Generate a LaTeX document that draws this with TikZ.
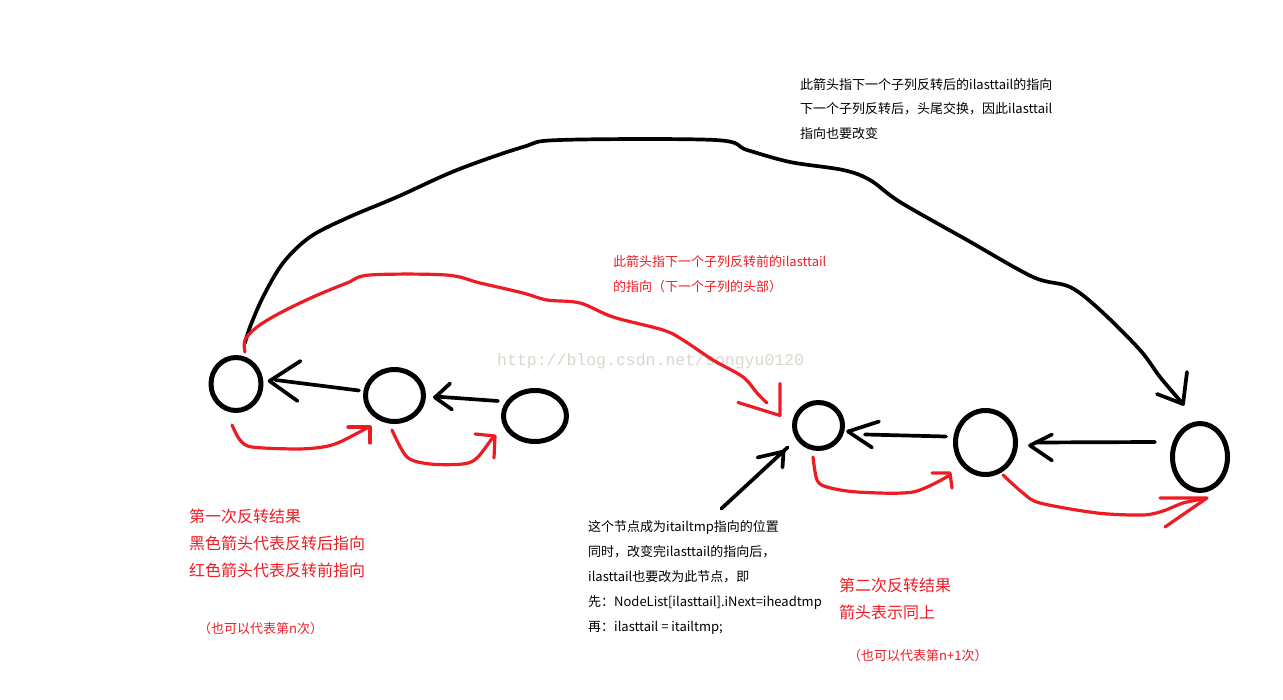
\documentclass[tikz,border=0pt]{standalone}
\usepackage{fontspec}
\newfontfamily\cjk{Noto Sans CJK SC}
\newfontfamily\wmfont{Liberation Mono}
\usetikzlibrary{shapes.geometric,calc}
\definecolor{pr}{RGB}{237,28,36}
\definecolor{wmgray}{RGB}{218,214,206}
\begin{document}
\begin{tikzpicture}[x=1pt,y=-1pt,
 blk/.style={draw=black,line width=3.7pt,line cap=round,line join=round},
 redl/.style={draw=pr,line width=3.2pt,line cap=round,line join=round},
 circ/.style={ellipse,draw=black,line width=5pt,inner sep=0pt},
 bt/.style={font=\cjk\fontsize{13}{16}\selectfont,anchor=base west,inner sep=0pt,text=black},
 rt/.style={bt,text=pr},
 rbig/.style={font=\cjk\fontsize{16}{19}\selectfont,anchor=base west,inner sep=0pt,text=pr},
 wmark/.style={font=\wmfont\fontsize{16.5}{19}\selectfont,anchor=base west,inner sep=0pt,text=wmgray},
]
\path[use as bounding box] (0,0) rectangle (1283,700);

% watermark
\node[wmark] (wm0) at (497,366) {http://blog.csdn.net/songyu0120};

% list nodes
\node[circ,minimum width=50pt,minimum height=53pt] (c1) at (236,384) {};
\node[circ,minimum width=58pt,minimum height=52pt] (c2) at (394.5,395.5) {};
\node[circ,minimum width=63pt,minimum height=51pt] (c3) at (535,416) {};
\node[circ,minimum width=48pt,minimum height=46pt] (c4) at (818.5,425.5) {};
\node[circ,minimum width=60pt,minimum height=64pt] (c5) at (985.5,442.5) {};
\node[circ,minimum width=55pt,minimum height=67pt] (c6) at (1200,457) {};

% arrow tip coordinates
\coordinate (h21) at ($(c1.east)+(6,-3)$);
\coordinate (h32) at ($(c2.east)+(9,2)$);
\coordinate (h54) at ($(c4.east)+(3,6)$);
\coordinate (h65) at ($(c5.east)+(12,3)$);
\coordinate (hp)  at ($(c4.center)+(-35,26)$);
\coordinate (hbig) at ($(c6.north)+(-17,-17)$);
\coordinate (hred) at ($(c4.west)+(-12,-10)$);

% black arrows (after reversal)
\draw[blk] ($(c2.west)+(-4,-5)$) -- ($(c1.east)+(12,-4)$);
\draw[blk] (h21) ++(31,-20) -- (h21) -- ++(28,20);
\draw[blk] ($(c3.west)+(-3,-15)$) -- ($(c2.east)+(9,1)$);
\draw[blk] (h32) ++(15,-14) -- (h32) -- ++(17,12);
\draw[blk] ($(c5.west)+(-7,-6)$) -- ($(c4.east)+(20,9)$);
\draw[blk] (h54) ++(31,-10) -- (h54) -- ++(24,16);
\draw[blk] ($(c6.west)+(-15,-15)$) -- ($(c5.east)+(17,0)$);
\draw[blk] (h65) ++(22,-11) -- (h65) -- ++(22,15);
\draw[blk] ($(hp)+(-62,57)$) -- ($(hp)+(4,-4)$);
\draw[blk] (hp) ++(-26,6) -- (hp) -- ++(-1,16);

% long black arrow
\draw[blk] plot[smooth,tension=0.55] coordinates {(245,343) (250,327) (263,297) (283,263) (310,237) (347,218) (397,197) (457,170) (523,147) (560,140) (715,140) (747,150) (790,162) (843,170) (870,180) (900,202) (967,240) (1033,277) (1070,287) (1100,310) (1140,350) (1160,377) (hbig)};
\draw[blk] (hbig) ++(4,-32) -- (hbig) -- ++(-26,-10);

% long red arrow
\draw[redl] plot[smooth,tension=0.55] coordinates {(245,352) (245,340) (257,327) (280,313) (313,297) (347,283) (370,275) (446,275) (480,283) (523,293) (547,300) (580,303) (613,317) (663,330) (683,340) (713,360) (743,377) (757,393) (767,403)};
\draw[redl] (hred) ++(-42,-13) -- (hred) -- ++(0,-32);

% red arrows (before reversal)
\draw[redl] plot[smooth,tension=0.5] coordinates {(232,425) (240,440) (252,447) (297,449) (323,447) (340,442) (367,428)};
\draw[redl] (348,427) -- (370,427) -- (370,443);
\draw[redl] plot[smooth,tension=0.5] coordinates {(392,430) (407,457) (430,464) (463,464) (477,458) (493,437)};
\draw[redl] (475,434) -- (495,436) -- (494,458);
\draw[redl] plot[smooth,tension=0.5] coordinates {(813,457) (817,480) (827,487) (857,492) (913,492) (950,475)};
\draw[redl] (932,473) -- (950,473) -- (952,488);
\draw[redl] plot[smooth,tension=0.5] coordinates {(1003,475) (1023,493) (1040,503) (1097,513) (1143,515) (1163,511) (1183,503) (1203,499)};
\draw[redl] (1160,498) -- (1207,498) -- (1165,527);

% texts
\node[bt] (n1) at (800,90) {此箭头指下一个子列反转后的ilasttail的指向};
\node[bt] (n2) at (800,114) {下一个子列反转后，头尾交换，因此ilasttail};
\node[bt] (n3) at (800,139) {指向也要改变};
\node[rt] (m1) at (613,267) {此箭头指下一个子列反转前的ilasttail};
\node[rt] (m2) at (613,292) {的指向（下一个子列的头部）};
\node[rbig] (l1) at (189,522) {第一次反转结果};
\node[rbig] (l2) at (189,549) {黑色箭头代表反转后指向};
\node[rbig] (l3) at (189,576) {红色箭头代表反转前指向};
\node[rt] (l4) at (198,633) {（也可以代表第n次）};
\node[bt] (b1) at (588,531) {这个节点成为itailtmp指向的位置};
\node[bt] (b2) at (588,556) {同时，改变完ilasttail的指向后，};
\node[bt] (b3) at (588,581) {ilasttail也要改为此节点，即};
\node[bt] (b4) at (588,606) {先：NodeList[ilasttail].iNext=iheadtmp};
\node[bt] (b5) at (588,631) {再：ilasttail = itailtmp;};
\node[rbig] (r1) at (839,591) {第二次反转结果};
\node[rbig] (r2) at (839,618) {箭头表示同上};
\node[rt] (r3) at (848,660) {（也可以代表第n+1次）};
\end{tikzpicture}
\end{document}
